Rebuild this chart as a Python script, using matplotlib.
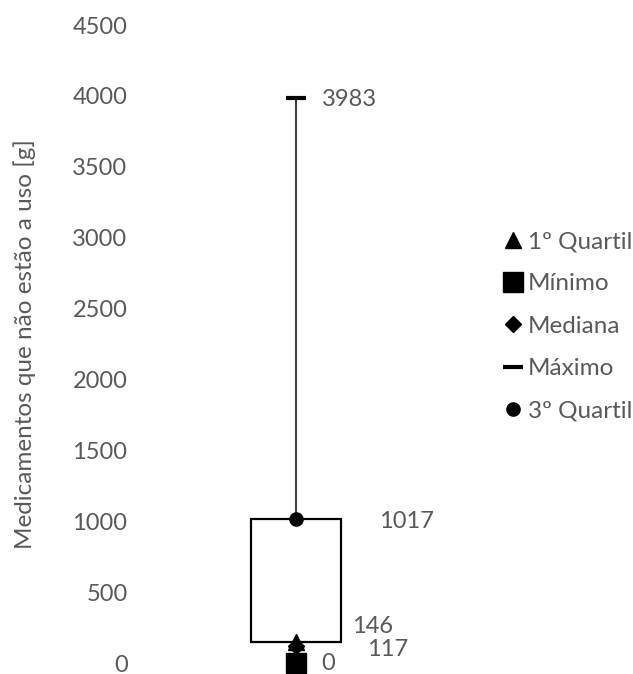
import matplotlib.pyplot as plt

plt.rcParams['font.family'] = ['Lato', 'DejaVu Sans']

# box plot summary values (g)
minimo = 0
q1 = 146
mediana = 117
q3 = 1017
maximo = 3983

series_names = ['1º Quartil', 'Mínimo', 'Mediana', 'Máximo', '3º Quartil']
series_values = [q1, minimo, mediana, maximo, q3]
yticks = [0, 500, 1000, 1500, 2000, 2500, 3000, 3500, 4000, 4500]

text_color = '#595959'
fs = 17

fig = plt.figure(figsize=(6.33, 6.74), dpi=100)
ax = fig.add_axes([165 / 633, 1 - 663 / 674, 262 / 633, (663 - 25) / 674])

x0 = 0
box_w = 0.69

# whisker from 3rd quartile up to the maximum
ax.vlines(x0, q3, maximo, color='#404040', lw=1.5, zorder=1)
# box between the quartiles
ax.bar(x0, q3 - q1, bottom=q1, width=box_w, color='white',
       edgecolor='black', lw=1.6, zorder=2)

marker_styles = {
    '1º Quartil': dict(marker='^', ms=11),
    'Mínimo': dict(marker='s', ms=14),
    'Mediana': dict(marker='D', ms=8),
    'Máximo': dict(marker='_', ms=14, mew=3),
    '3º Quartil': dict(marker='o', ms=9.5),
}
handles = []
for name, val in zip(series_names, series_values):
    st = marker_styles[name]
    h, = ax.plot([x0], [val], ls='none', color='black', mfc='black',
                 mec='black', clip_on=False, zorder=5, label=name, **st)
    handles.append(h)

# data labels (offsets in points)
label_offsets = {
    '1º Quartil': (40, 11.5),
    'Mínimo': (18.5, 0),
    'Mediana': (51, -2.5),
    'Máximo': (18.5, -1),
    '3º Quartil': (60, -2),
}
for name, val in zip(series_names, series_values):
    dx, dy = label_offsets[name]
    ax.annotate(str(val), (x0, val), xytext=(dx, dy), textcoords='offset points',
                ha='left', va='center', fontsize=fs, color=text_color,
                annotation_clip=False)

ax.set_xlim(-1, 1)
ax.set_ylim(0, 4500)
ax.set_yticks(yticks)
ax.set_xticks([])
ax.tick_params(axis='y', length=0, pad=27, labelsize=fs, labelcolor=text_color)
for s in ax.spines.values():
    s.set_visible(False)

ax.set_ylabel('Medicamentos que não estão a uso [g]', fontsize=17.5,
              color=text_color)
ax.yaxis.set_label_coords(-0.492, 0.5)

leg = fig.legend(handles=handles, loc='upper left',
                 bbox_to_anchor=(501 / 633, 1 - 231 / 674),
                 frameon=False, fontsize=17.5, labelcolor=text_color,
                 handlelength=1.0, handletextpad=0.1, labelspacing=0.88,
                 borderpad=0, borderaxespad=0, markerscale=1.0)

fig.savefig('out.png', dpi=100)
